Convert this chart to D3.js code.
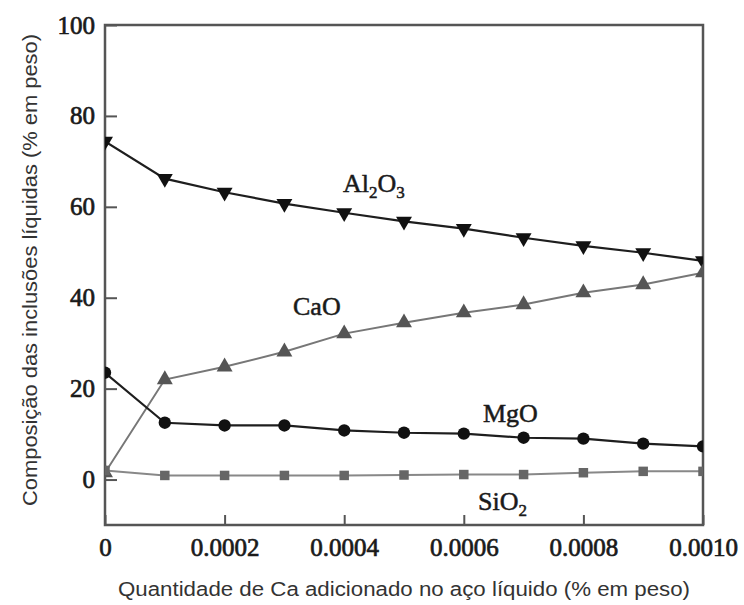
<!DOCTYPE html>
<html>
<head>
<meta charset="utf-8">
<script src="https://cdn.jsdelivr.net/npm/d3@7"></script>
<style>
  body { margin: 0; background: #fff; }
  svg { display: block; }
  .tick text { font-family: "Liberation Serif", "Times New Roman", serif; }
</style>
</head>
<body>
<div id="chart"></div>
<script>
// Ca added (% weight)
var caAdded = [0, 0.0001, 0.0002, 0.0003, 0.0004, 0.0005, 0.0006, 0.0007, 0.0008, 0.0009, 0.0010];
// liquid inclusion composition (% weight)
var al2o3 = [74.4, 66.2, 63.2, 60.7, 58.7, 56.8, 55.2, 53.2, 51.4, 49.9, 48.1];
var cao   = [1.5, 22.0, 24.8, 28.1, 32.1, 34.5, 36.7, 38.5, 41.1, 42.9, 45.5];
var mgo   = [23.5, 12.5, 11.9, 11.9, 10.8, 10.3, 10.1, 9.2, 9.0, 7.9, 7.3];
var sio2  = [2.0, 0.9, 0.9, 0.9, 0.9, 1.0, 1.1, 1.1, 1.5, 1.8, 1.8];

var xTicks = [0, 0.0002, 0.0004, 0.0006, 0.0008, 0.0010];
var xTickLabels = ["0", "0.0002", "0.0004", "0.0006", "0.0008", "0.0010"];
var yTicks = [0, 20, 40, 60, 80, 100];

var W = 744, H = 605;
var margin = {top: 25, right: 41, bottom: 80, left: 105};
var w = W - margin.left - margin.right, h = H - margin.top - margin.bottom;

var svg = d3.select("#chart").append("svg").attr("width", W).attr("height", H);
var g = svg.append("g").attr("transform", "translate(" + margin.left + "," + margin.top + ")");

var x = d3.scaleLinear().domain([0, 0.0010]).range([0, w]);
var y = d3.scaleLinear().domain([-10, 100]).range([h, 0]);

svg.append("defs").append("clipPath").attr("id", "plotclip")
  .append("rect").attr("width", w).attr("height", h);

/* axes, ticks point inwards */
var frameColor = "#555";
var xAxis = g.append("g").attr("transform", "translate(0," + h + ")")
  .call(d3.axisBottom(x).tickValues(xTicks).tickSize(-10).tickPadding(14)
    .tickFormat(function(d, i) { return xTickLabels[i]; }));
var yAxis = g.append("g")
  .call(d3.axisLeft(y).tickValues(yTicks).tickSize(-12).tickPadding(10));

[xAxis, yAxis].forEach(function(a) {
  a.select(".domain").remove();
  a.attr("font-family", null).attr("font-size", null);
  a.selectAll("line").attr("stroke", frameColor).attr("stroke-width", 2);
  a.selectAll("text")
    .style("font-size", "25px")
    .attr("fill", "#1a1a1a")
    .attr("stroke", "#1a1a1a").attr("stroke-width", 0.7);
});
xAxis.selectAll("text").attr("dy", "0.71em").attr("y", 13);

g.append("rect").attr("width", w).attr("height", h)
  .attr("fill", "none").attr("stroke", frameColor).attr("stroke-width", 2.5);

/* series */
var series = [
  {name: "Al2O3", values: al2o3, line: "#1e1e1e", lw: 2.2, fill: "#111", sym: "down", size: 110},
  {name: "CaO",   values: cao,   line: "#777",    lw: 2,   fill: "#555", sym: "up",   size: 110},
  {name: "MgO",   values: mgo,   line: "#1e1e1e", lw: 2.2, fill: "#111", sym: "circle", size: 120},
  {name: "SiO2",  values: sio2,  line: "#888",    lw: 2,   fill: "#666", sym: "square", size: 90}
];

var line = d3.line().x(function(d) { return x(d[0]); }).y(function(d) { return y(d[1]); });
var plot = g.append("g").attr("clip-path", "url(#plotclip)");

series.forEach(function(s) {
  var pts = caAdded.map(function(c, i) { return [c, s.values[i]]; });
  plot.append("path").datum(pts)
    .attr("fill", "none").attr("stroke", s.line).attr("stroke-width", s.lw)
    .attr("d", line);
  var symType = s.sym === "circle" ? d3.symbolCircle : s.sym === "square" ? d3.symbolSquare : d3.symbolTriangle;
  plot.selectAll(null).data(pts).enter().append("path")
    .attr("d", d3.symbol().type(symType).size(s.size))
    .attr("fill", s.fill)
    .attr("transform", function(d) {
      return "translate(" + x(d[0]) + "," + y(d[1]) + ")" + (s.sym === "down" ? " rotate(180)" : "");
    });
});

/* series labels */
var labelFont = "'Liberation Serif', 'Times New Roman', serif";
function chemLabel(px, py, parts) {
  var t = g.append("text").attr("x", px).attr("y", py)
    .attr("font-family", labelFont).attr("font-size", "26px").attr("fill", "#1a1a1a")
    .attr("stroke", "#1a1a1a").attr("stroke-width", 0.5);
  parts.forEach(function(p) {
    var ts = t.append("tspan").text(p[0]);
    if (p[1]) ts.attr("font-size", "17px").attr("dy", "6");
    else if (p[2]) ts.attr("dy", "-6");
  });
}
chemLabel(238, 167, [["Al"], ["2", true], ["O", false, true], ["3", true]]);
chemLabel(188, 290, [["CaO"]]);
chemLabel(378, 397, [["MgO"]]);
chemLabel(373, 485, [["SiO"], ["2", true]]);

/* axis titles */
svg.append("text")
  .attr("x", 404).attr("y", 596).attr("text-anchor", "middle")
  .attr("font-family", "'Liberation Sans', Arial, sans-serif").attr("font-size", "20px")
  .attr("fill", "#333")
  .attr("textLength", 572).attr("lengthAdjust", "spacingAndGlyphs")
  .text("Quantidade de Ca adicionado no aço líquido (% em peso)");

svg.append("text")
  .attr("transform", "translate(37,270) rotate(-90)")
  .attr("text-anchor", "middle")
  .attr("font-family", "'Liberation Sans', Arial, sans-serif").attr("font-size", "20px")
  .attr("fill", "#333")
  .attr("textLength", 472).attr("lengthAdjust", "spacingAndGlyphs")
  .text("Composição das inclusões líquidas (% em peso)");
</script>
</body>
</html>
